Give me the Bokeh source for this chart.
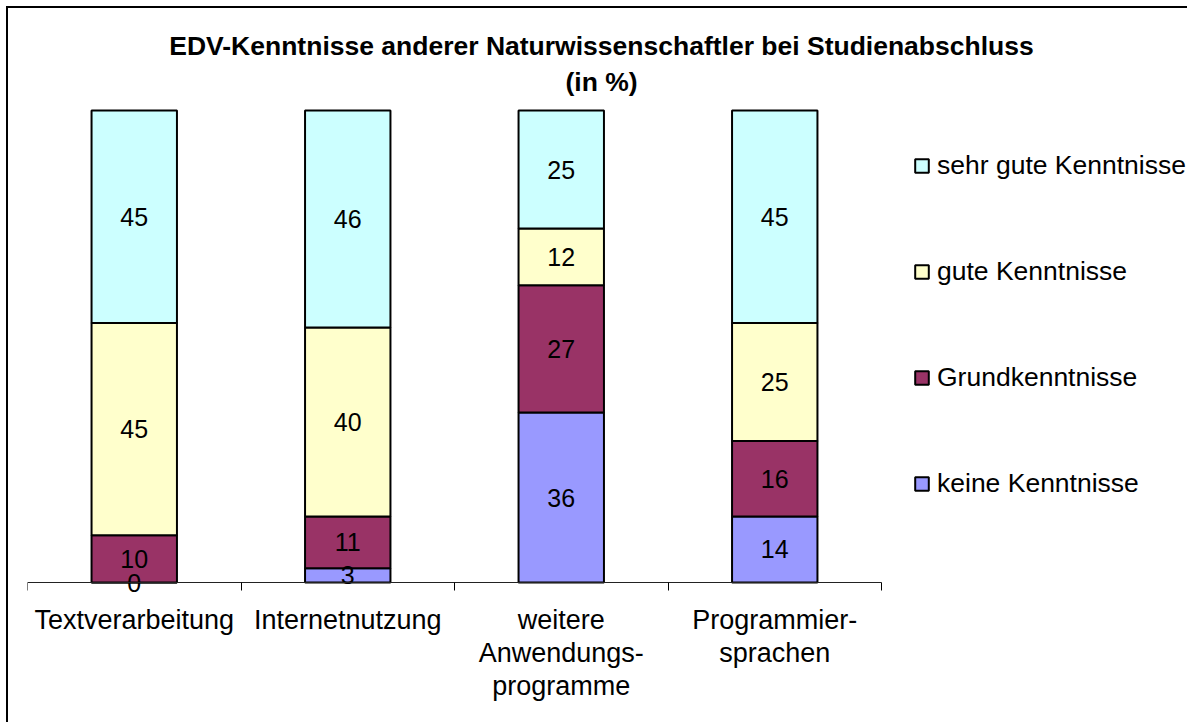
from bokeh.plotting import figure
from bokeh.models import (ColumnDataSource, FixedTicker, Legend, LegendItem, Label, Range1d)
from bokeh.embed import file_html
from bokeh.resources import INLINE
from bokeh.core.properties import value
import numpy as np

# ---- data ----
categories = ["Textverarbeitung", "Internetnutzung", "weitere\nAnwendungs-\nprogramme", "Programmier-\nsprachen"]
keine = [0, 3, 36, 14]
grund = [10, 11, 27, 16]
gute = [45, 40, 12, 25]
sehr_gute = [45, 46, 25, 45]
series_keys = ["keine", "grund", "gute", "sehr_gute"]
series_names = ["keine Kenntnisse", "Grundkenntnisse", "gute Kenntnisse", "sehr gute Kenntnisse"]
colors = ["#9999FF", "#993366", "#FFFFCC", "#CCFFFF"]
title_lines = ["EDV-Kenntnisse anderer Naturwissenschaftler bei Studienabschluss", "(in %)"]

FONT = "Liberation Sans"

# ---- layout constants (pixels) ----
W, H = 1181, 716
BL = 19                   # left border
AXIS_Y = 574              # canvas y of the value axis (0 %)
BELOW = H - AXIS_Y        # frame extends to the canvas bottom (axis labels live inside it)
FW, FH = W - BL, H
SLOT_W = 854              # width of the four category slots
BAR_H = 472               # pixel height of 100 %

n = len(categories)
xpos = [i + 0.5 for i in range(n)]
data = dict(x=xpos, keine=keine, grund=grund, gute=gute, sehr_gute=sehr_gute)
source = ColumnDataSource(data)

px_per_pct = BAR_H / 100
p = figure(width=W, height=H, output_backend="svg", toolbar_location=None,
           x_range=Range1d(0, n * FW / SLOT_W),
           y_range=Range1d(-BELOW / px_per_pct, (FH - BELOW) / px_per_pct),
           min_border_left=BL, min_border_right=0, min_border_top=0, min_border_bottom=0,
           outline_line_color=None)
p.styles = {"border-left": "2px solid black", "border-top": "2px solid black",
            "margin-left": "6px", "margin-top": "6px"}
p.xgrid.visible = False
p.ygrid.visible = False
p.yaxis.visible = False

renderers = p.vbar_stack(series_keys, x="x", width=0.4, source=source,
                         fill_color=colors, line_color="black", line_width=2)

# value labels
vals = np.array([keine, grund, gute, sehr_gute], dtype=float)
cum = np.cumsum(vals, axis=0)
mids = cum - vals / 2
lx, ly, lt = [], [], []
for s in range(vals.shape[0]):
    for i in range(vals.shape[1]):
        lx.append(xpos[i]); ly.append(mids[s, i]); lt.append(str(int(vals[s, i])))
p.text(x=lx, y=ly, text=lt, text_align="center", text_baseline="middle",
       text_font=value(FONT), text_font_size="25px", text_color="black")

# x axis (drawn at 0 %)
ax = p.xaxis[0]
ax.fixed_location = 0
ax.bounds = (0, n)
ax.ticker = FixedTicker(ticks=xpos, minor_ticks=list(range(n + 1)))
ax.major_label_overrides = {x: c for x, c in zip(xpos, categories)}
ax.major_tick_out = 0
ax.major_tick_in = 0
ax.minor_tick_out = 8
ax.minor_tick_in = 0
ax.minor_tick_line_color = "black"
ax.axis_line_color = "#222222"
ax.axis_line_width = 1
ax.major_label_text_font = FONT
ax.major_label_text_font_size = "27px"
ax.major_label_text_color = "black"
ax.major_label_text_line_height = 1.1
ax.major_label_standoff = 14

# legend (location = bottom-left corner, relative to the frame)
items = [LegendItem(label=series_names[k], renderers=[renderers[k]]) for k in range(3, -1, -1)]
legend = Legend(items=items, location=(886, 83 + BELOW), orientation="vertical",
                glyph_width=17, glyph_height=17, label_height=25, label_standoff=7,
                spacing=75, padding=0, margin=0, border_line_alpha=0, background_fill_alpha=0,
                label_text_font=FONT, label_text_font_size="26.5px", label_text_color="black")
p.add_layout(legend)

# title
for txt, ty in zip(title_lines, (537, 501)):
    p.add_layout(Label(x=574, y=ty + BELOW, x_units="screen", y_units="screen", text=txt,
                       text_align="center", text_baseline="middle", text_font=FONT,
                       text_font_size="26.5px", text_font_style="bold", text_color="black"))

open("out.html", "w").write(file_html(p, INLINE))
